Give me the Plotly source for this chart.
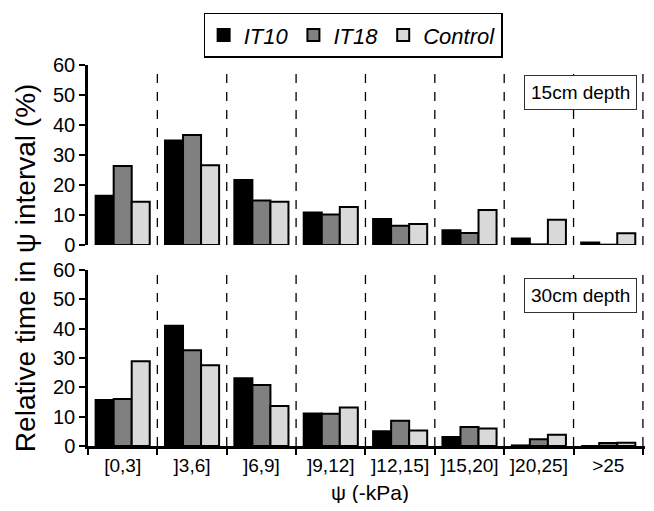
import plotly.graph_objects as go

categories = ["[0,3]", "]3,6]", "]6,9]", "]9,12]", "]12,15]", "]15,20]", "]20,25]", ">25"]
series_names = ["IT10", "IT18", "Control"]
series_colors = ["#000000", "#808080", "#d9d9d9"]

# 15 cm depth
it10_15 = [16.4, 34.8, 21.7, 10.8, 8.7, 4.9, 2.2, 0.8]
it18_15 = [26.3, 36.7, 14.8, 10.2, 6.4, 4.0, 0.2, 0.1]
ctrl_15 = [14.4, 26.6, 14.4, 12.7, 7.0, 11.7, 8.4, 3.9]

# 30 cm depth
it10_30 = [15.7, 41.0, 23.1, 11.1, 5.0, 3.1, 0.2, 0.0]
it18_30 = [16.0, 32.6, 20.8, 11.0, 8.6, 6.5, 2.3, 1.0]
ctrl_30 = [28.9, 27.5, 13.6, 13.1, 5.3, 6.0, 3.8, 1.1]

y_ticks = [0, 10, 20, 30, 40, 50, 60]

FONT = "Liberation Sans, Arial, sans-serif"

fig = go.Figure()
top = [it10_15, it18_15, ctrl_15]
bot = [it10_30, it18_30, ctrl_30]
for name, color, vals in zip(series_names, series_colors, top):
    fig.add_trace(go.Bar(x=categories, y=vals, name=name, marker=dict(color=color, line=dict(color="black", width=2)),
                         xaxis="x", yaxis="y", legendgroup=name))
for name, color, vals in zip(series_names, series_colors, bot):
    fig.add_trace(go.Bar(x=categories, y=vals, name=name, marker=dict(color=color, line=dict(color="black", width=2)),
                         xaxis="x2", yaxis="y2", legendgroup=name, showlegend=False))

n = len(categories)
shapes = []
for yref in ["y", "y2"]:
    for i in range(1, n + 1):
        shapes.append(dict(type="line", xref="x" if yref == "y" else "x2", yref=yref,
                           x0=i - 0.5, x1=i - 0.5, y0=0, y1=60,
                           line=dict(color="black", width=1.3, dash="dash"), layer="below"))

yaxis_common = dict(range=[0, 60], tickvals=y_ticks, showline=True, linecolor="black", linewidth=2.5,
                    ticks="outside", ticklen=6, tickwidth=2, tickcolor="black", showgrid=False, zeroline=False,
                    tickfont=dict(family=FONT, size=20, color="black"))

x_range = [-0.5, n - 0.5 + 0.03]

fig.update_layout(
    width=646, height=495,
    margin=dict(l=80, r=9, t=57, b=57, autoexpand=False),
    plot_bgcolor="white", paper_bgcolor="white",
    barmode="group", bargap=0.22, bargroupgap=0,
    showlegend=True,
    legend=dict(orientation="h", x=0.476, xanchor="center", y=1.137, yanchor="top",
                bordercolor="black", borderwidth=1.5, bgcolor="white",
                font=dict(family=FONT, size=22, color="black", style="italic"),
                itemwidth=30, tracegroupgap=0),
    xaxis=dict(domain=[0, 1], range=x_range, showticklabels=False, showline=False, ticks="",
               showgrid=False, zeroline=False, anchor="y"),
    xaxis2=dict(domain=[0, 1], range=x_range, showline=True, linecolor="black", linewidth=2.5,
                ticks="outside", tickson="boundaries", ticklen=6, tickwidth=2, tickcolor="black",
                showgrid=False, zeroline=False, anchor="y2",
                tickfont=dict(family=FONT, size=19, color="black")),
    yaxis=dict(domain=[0.5276, 1], anchor="x", **yaxis_common),
    yaxis2=dict(domain=[0, 0.462], anchor="x2", **yaxis_common),
    shapes=shapes,
    annotations=[
        dict(text="15cm depth", xref="paper", yref="paper", x=0.885, y=0.929, showarrow=False,
             font=dict(family=FONT, size=19, color="black"), bordercolor="#333333", borderwidth=1,
             bgcolor="white", borderpad=6, xanchor="center", yanchor="middle"),
        dict(text="30cm depth", xref="paper", yref="paper", x=0.885, y=0.395, showarrow=False,
             font=dict(family=FONT, size=19, color="black"), bordercolor="#333333", borderwidth=1,
             bgcolor="white", borderpad=6, xanchor="center", yanchor="middle"),
        dict(text="Relative time in ψ interval (%)", xref="paper", yref="paper", x=-0.113, y=0.467,
             textangle=-90, showarrow=False, xanchor="center", yanchor="middle",
             font=dict(family=FONT, size=28, color="black")),
        dict(text="ψ (-kPa)", xref="paper", yref="paper", x=0.506, y=-0.123, showarrow=False,
             xanchor="center", yanchor="middle", font=dict(family=FONT, size=21, color="black")),
    ],
)

fig.write_html("out.html")
